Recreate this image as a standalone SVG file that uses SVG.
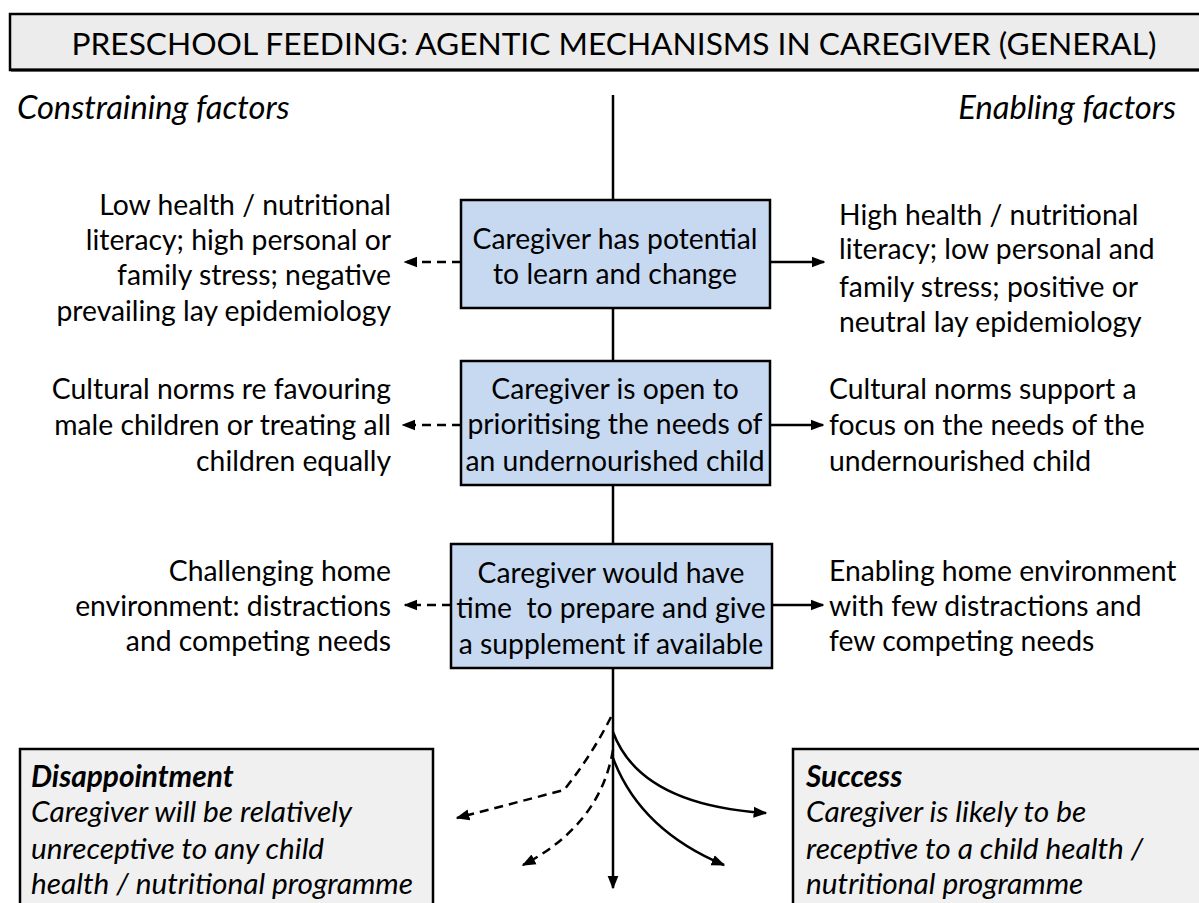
<svg xmlns="http://www.w3.org/2000/svg" width="1199" height="903" viewBox="0 0 1199 903">
<style>
text{font-family:Lato,"Open Sans",sans-serif;fill:#000}
.t{font-size:28.3px}
.h{font-size:32.7px;font-style:italic}
.c{text-anchor:middle}
.r{text-anchor:end}
.box{fill:#c6d9f1;stroke:#000;stroke-width:2.5}
.out{fill:#f0f0f0;stroke:#000;stroke-width:2.5}
.ln{fill:none;stroke:#000;stroke-width:2.5}
.d{stroke-dasharray:9,6}
.bi{font-size:29.8px;font-style:italic}
</style>
<defs>
<marker id="a" viewBox="0 0 10 10" refX="9" refY="5" markerWidth="5.5" markerHeight="5.5" orient="auto" markerUnits="strokeWidth"><path d="M0,1 L10,5 L0,9 z" fill="#000"/></marker>
</defs>
<g id="title">
<rect x="10" y="14" width="1195" height="56" fill="#ececec" stroke="#000" stroke-width="2.5"/>
<line x1="11" y1="70" x2="1199" y2="70" stroke="#000" stroke-width="3"/>
<text x="614" y="55" class="c" style="font-size:31.7px">PRESCHOOL FEEDING: AGENTIC MECHANISMS IN CAREGIVER (GENERAL)</text>
</g>
<g id="headers">
<text x="17" y="119" class="h">Constraining factors</text>
<text x="1176" y="119" class="h r">Enabling factors</text>
</g>
<g id="connectors">
<line class="ln" x1="613" y1="95" x2="613" y2="888" marker-end="url(#a)"/>
<line class="ln d" x1="461" y1="262" x2="405" y2="262" marker-end="url(#a)"/>
<line class="ln" x1="770" y1="262" x2="824" y2="262" marker-end="url(#a)"/>
<line class="ln d" x1="461" y1="425" x2="403" y2="425" marker-end="url(#a)"/>
<line class="ln" x1="770" y1="425" x2="823" y2="425" marker-end="url(#a)"/>
<line class="ln d" x1="451" y1="605" x2="405" y2="605" marker-end="url(#a)"/>
<line class="ln" x1="772" y1="605" x2="823" y2="605" marker-end="url(#a)"/>
<path class="ln d" d="M611,717 Q592,755 564,790 L457,818" marker-end="url(#a)"/>
<path class="ln d" d="M613,750 Q600,825 523,865" marker-end="url(#a)"/>
<path class="ln" d="M613,732 Q640,805 766,813" marker-end="url(#a)"/>
<path class="ln" d="M613,758 Q640,830 724,865" marker-end="url(#a)"/>
</g>
<g id="node1">
<rect class="box" x="461" y="200" width="309" height="108"/>
<text class="t c" x="615" y="249">Caregiver has potential</text>
<text class="t c" x="615" y="284">to learn and change</text>
</g>
<g id="node2">
<rect class="box" x="461" y="361" width="309" height="124"/>
<text class="t c" x="615" y="399">Caregiver is open to</text>
<text class="t c" x="615" y="434">prioritising the needs of</text>
<text class="t c" x="615" y="471">an undernourished child</text>
</g>
<g id="node3">
<rect class="box" x="451" y="544" width="321" height="124"/>
<text class="t c" x="611" y="583">Caregiver would have</text>
<text class="t c" x="611" y="618">time&#160; to prepare and give</text>
<text class="t c" x="611" y="654">a supplement if available</text>
</g>
<g id="left1">
<text class="t r" x="391" y="215">Low health / nutritional</text>
<text class="t r" x="391" y="250">literacy; high personal or</text>
<text class="t r" x="391" y="285">family stress; negative</text>
<text class="t r" x="391" y="321">prevailing lay epidemiology</text>
</g>
<g id="right1">
<text class="t" x="839" y="225">High health / nutritional</text>
<text class="t" x="839" y="259">literacy; low personal and</text>
<text class="t" x="839" y="297">family stress; positive or</text>
<text class="t" x="839" y="332">neutral lay epidemiology</text>
</g>
<g id="left2">
<text class="t r" x="391" y="399">Cultural norms re favouring</text>
<text class="t r" x="391" y="435">male children or treating all</text>
<text class="t r" x="391" y="471">children equally</text>
</g>
<g id="right2">
<text class="t" x="829" y="399">Cultural norms support a</text>
<text class="t" x="829" y="435">focus on the needs of the</text>
<text class="t" x="829" y="471">undernourished child</text>
</g>
<g id="left3">
<text class="t r" x="391" y="581">Challenging home</text>
<text class="t r" x="391" y="616">environment: distractions</text>
<text class="t r" x="391" y="651">and competing needs</text>
</g>
<g id="right3">
<text class="t" x="829" y="581">Enabling home environment</text>
<text class="t" x="829" y="616">with few distractions and</text>
<text class="t" x="829" y="651">few competing needs</text>
</g>
<g id="disappointment">
<rect class="out" x="20" y="749" width="413" height="170"/>
<text class="bi" x="31" y="787" font-weight="bold">Disappointment</text>
<text class="bi" x="31" y="822">Caregiver will be relatively</text>
<text class="bi" x="31" y="859">unreceptive to any child</text>
<text class="bi" x="31" y="894">health / nutritional programme</text>
</g>
<g id="success">
<rect class="out" x="793" y="749" width="420" height="170"/>
<text class="bi" x="806" y="787" font-weight="bold">Success</text>
<text class="bi" x="806" y="822">Caregiver is likely to be</text>
<text class="bi" x="806" y="859">receptive to a child health /</text>
<text class="bi" x="806" y="894">nutritional programme</text>
</g>
</svg>
